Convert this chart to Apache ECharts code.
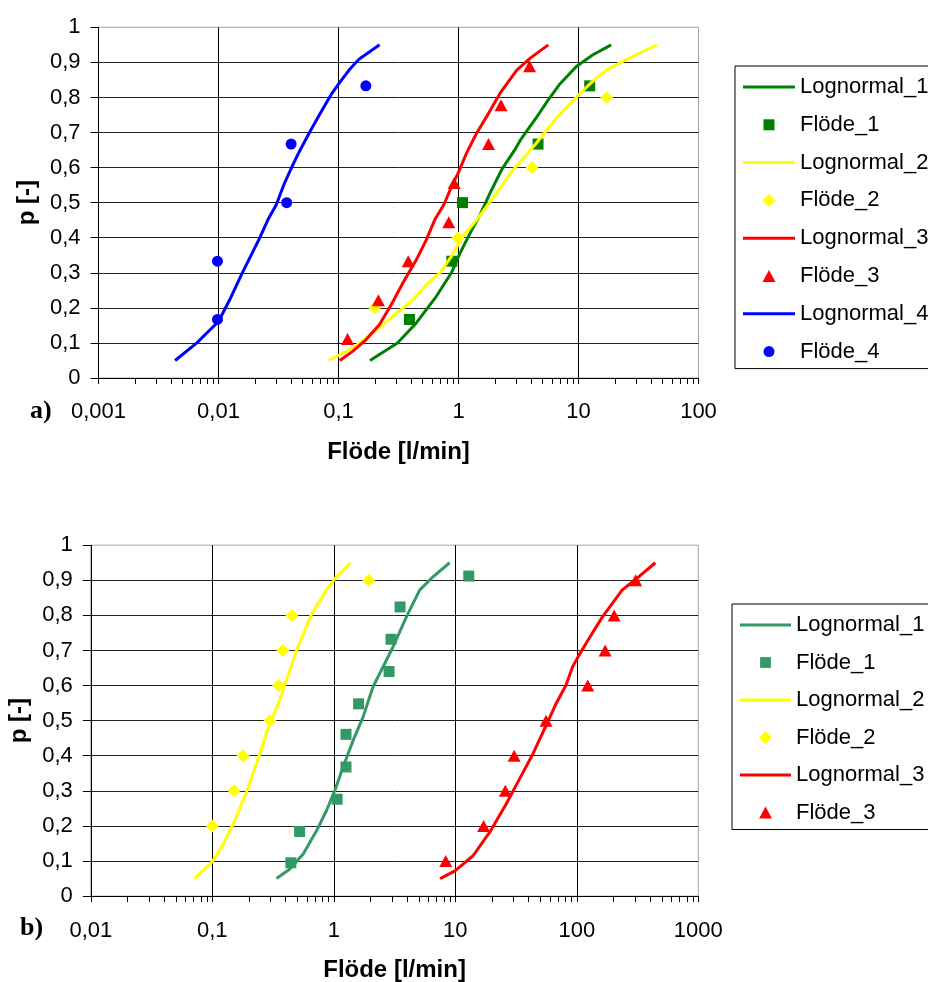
<!DOCTYPE html>
<html>
<head>
<meta charset="utf-8">
<script src="https://cdn.jsdelivr.net/npm/echarts@6/dist/echarts.min.js"></script>
<style>
  html, body { margin: 0; padding: 0; background: #fff; }
  #chart { width: 928px; height: 982px; }
</style>
</head>
<body>
<div id="chart"></div>
<script>
// ---------- Panel a) : four sites, cumulative probability vs. flow ----------
const aLogn1X = [0.183, 0.31, 0.445, 0.654, 0.873, 1.03, 1.25, 1.51, 1.83, 2.29, 2.95, 3.3, 4.4, 5.6, 6.9, 9.6, 13.1, 18.7];
const aLogn1P = [0.05, 0.10, 0.157, 0.233, 0.30, 0.356, 0.413, 0.465, 0.527, 0.594, 0.651, 0.68, 0.74, 0.793, 0.836, 0.888, 0.921, 0.95];
const aFlow1X = [0.39, 0.88, 1.08, 4.6, 12.4];
const aFlow1P = [0.167, 0.333, 0.5, 0.667, 0.833];

const aLogn2X = [0.083, 0.131, 0.193, 0.284, 0.417, 0.54, 0.70, 0.874, 1.09, 1.4, 2.0, 2.86, 4.46, 6.53, 10.2, 14.0, 18.1, 24.8, 32.1, 45];
const aLogn2P = [0.05, 0.085, 0.128, 0.176, 0.223, 0.266, 0.30, 0.347, 0.404, 0.448, 0.52, 0.594, 0.67, 0.741, 0.81, 0.855, 0.883, 0.907, 0.926, 0.95];
const aFlow2X = [0.2, 0.99, 4.1, 17.2];
const aFlow2P = [0.2, 0.4, 0.6, 0.8];

const aLogn3X = [0.1026, 0.131, 0.169, 0.219, 0.275, 0.344, 0.445, 0.539, 0.634, 0.754, 0.902, 0.993, 1.167, 1.4, 1.72, 2.22, 3.06, 3.96, 5.6];
const aLogn3P = [0.05, 0.076, 0.109, 0.152, 0.209, 0.271, 0.337, 0.394, 0.451, 0.494, 0.556, 0.584, 0.641, 0.695, 0.746, 0.812, 0.878, 0.912, 0.95];
const aFlow3X = [0.119, 0.215, 0.381, 0.83, 0.92, 1.78, 2.26, 3.91];
const aFlow3P = [0.111, 0.222, 0.333, 0.444, 0.556, 0.667, 0.778, 0.889];

const aLogn4X = [0.00435, 0.0066, 0.0100, 0.0124, 0.0155, 0.022, 0.0258, 0.0303, 0.0355, 0.041, 0.0472, 0.059, 0.0692, 0.0864, 0.101, 0.1225, 0.148, 0.22];
const aLogn4P = [0.05, 0.10, 0.161, 0.223, 0.294, 0.399, 0.451, 0.494, 0.556, 0.603, 0.646, 0.708, 0.75, 0.807, 0.84, 0.878, 0.909, 0.95];
const aFlow4X = [0.0098, 0.0098, 0.037, 0.0403, 0.169];
const aFlow4P = [0.167, 0.333, 0.5, 0.667, 0.833];

const aFlowTickLabels = ['0,001', '0,01', '0,1', '1', '10', '100'];

// ---------- Panel b) : three sites ----------
const bLogn1X = [0.338, 0.435, 0.56, 0.721, 0.871, 1.02, 1.19, 1.44, 1.74, 2.10, 2.54, 3.07, 3.95, 5.09, 6.55, 8.98];
const bLogn1P = [0.05, 0.077, 0.12, 0.186, 0.244, 0.301, 0.367, 0.443, 0.51, 0.596, 0.653, 0.71, 0.795, 0.872, 0.91, 0.95];
const bFlow1X = [0.443, 0.523, 1.064, 1.26, 1.26, 1.60, 2.85, 2.96, 3.51, 12.9];
const bFlow1P = [0.095, 0.184, 0.276, 0.368, 0.461, 0.548, 0.64, 0.732, 0.824, 0.912];

const bLogn2X = [0.0711, 0.1, 0.123, 0.153, 0.191, 0.211, 0.246, 0.289, 0.349, 0.408, 0.493, 0.655, 0.871, 1.02, 1.37];
const bLogn2P = [0.05, 0.098, 0.148, 0.215, 0.296, 0.339, 0.405, 0.481, 0.548, 0.615, 0.70, 0.803, 0.872, 0.905, 0.95];
const bFlow2X = [0.1, 0.151, 0.179, 0.298, 0.351, 0.381, 0.452, 1.94];
const bFlow2P = [0.2, 0.3, 0.4, 0.5, 0.6, 0.7, 0.8, 0.9];

const bLogn3X = [7.5, 9.94, 14.0, 19.2, 26.3, 33.8, 43.5, 55.8, 67.4, 81.3, 92.2, 104, 126, 162, 236, 323, 443];
const bLogn3P = [0.05, 0.072, 0.115, 0.182, 0.263, 0.334, 0.405, 0.486, 0.548, 0.60, 0.653, 0.686, 0.734, 0.795, 0.872, 0.91, 0.95];
const bFlow3X = [8.34, 17.1, 25.8, 30.5, 55.8, 123, 171, 203, 305];
const bFlow3P = [0.1, 0.2, 0.3, 0.4, 0.5, 0.6, 0.7, 0.8, 0.9];

const bFlowTickLabels = ['0,01', '0,1', '1', '10', '100', '1000'];

// shared
const pTickLabels = ['0', '0,1', '0,2', '0,3', '0,4', '0,5', '0,6', '0,7', '0,8', '0,9', '1'];
const minorSteps = [2, 3, 4, 5, 6, 7, 8, 9];

const FONT = '"Liberation Sans", Arial, sans-serif';
const GREEN_A = '#008000';
const GREEN_B = '#339966';
const YELLOW = '#FFFF00';
const RED = '#FF0000';
const BLUE = '#0000FF';

const zip = (xs, ps) => xs.map((x, i) => [x, ps[i]]);

function curve(name, xs, ps, color, idx) {
  return {
    type: 'line', name, xAxisIndex: idx, yAxisIndex: idx,
    data: zip(xs, ps), showSymbol: false, symbol: 'none', smooth: false,
    lineStyle: { color, width: 3, opacity: 1 }, itemStyle: { color },
    silent: true, animation: false
  };
}

function points(name, xs, ps, color, symbol, size, idx) {
  return {
    type: 'scatter', name, xAxisIndex: idx, yAxisIndex: idx,
    data: zip(xs, ps), symbol, symbolSize: size,
    itemStyle: { color, borderWidth: 0, opacity: 1 }, silent: true, animation: false
  };
}

// log-axis minor ticks (2..9 within each decade), drawn under the axis line
function minorTicks(firstExp, lastExp, idx) {
  const vals = [];
  for (let e = firstExp; e < lastExp; e++) {
    minorSteps.forEach(m => vals.push([m * Math.pow(10, e), 0]));
  }
  return {
    type: 'custom', xAxisIndex: idx, yAxisIndex: idx, data: vals,
    silent: true, clip: false, animation: false,
    renderItem(params, api) {
      const p = api.coord([api.value(0), 0]);
      const x = Math.round(p[0]) + 0.5;
      return { type: 'line', shape: { x1: x, y1: p[1], x2: x, y2: p[1] + 6 },
               style: { stroke: '#000', lineWidth: 1 } };
    }
  };
}

function xAxis(idx, min, max, labels, labelMargin) {
  const minExp = Math.round(Math.log10(min));
  return {
    type: 'log', logBase: 10, gridIndex: idx, min, max,
    axisLine: { show: true, onZero: false, lineStyle: { color: '#000', width: 1 } },
    axisTick: { show: true, inside: false, length: 6, lineStyle: { color: '#000', width: 1 } },
    minorTick: { show: false },
    axisLabel: {
      fontSize: 22, fontFamily: FONT, color: '#000', margin: labelMargin,
      formatter: v => labels[Math.round(Math.log10(v)) - minExp]
    },
    splitLine: { show: true, showMinLine: false, showMaxLine: false, lineStyle: { color: '#000', width: 1 } },
    name: 'Flöde [l/min]', nameLocation: 'middle', nameGap: 62,
    nameTextStyle: { fontSize: 24, fontWeight: 'bold', fontFamily: FONT, color: '#000' }
  };
}

function yAxis(idx) {
  return {
    type: 'value', gridIndex: idx, min: 0, max: 1, interval: 0.1,
    axisLine: { show: true, onZero: false, lineStyle: { color: '#000', width: 1 } },
    axisTick: { show: true, inside: false, length: 8, lineStyle: { color: '#000', width: 1 } },
    axisLabel: {
      fontSize: 22, fontFamily: FONT, color: '#000', margin: 18,
      formatter: v => pTickLabels[Math.round(v * 10)]
    },
    splitLine: { show: true, showMinLine: false, showMaxLine: false, lineStyle: { color: '#222', width: 1 } },
    name: 'p [-]', nameLocation: 'middle', nameGap: 59, nameRotate: 90,
    nameTextStyle: { fontSize: 24, fontWeight: 'bold', fontFamily: FONT, color: '#000' }
  };
}

// legend glyphs in a 52 x 22 box
const ICON_LINE = 'path://M0,0M52,22M0,9.5h52v3h-52z';
const ICON_RECT = 'path://M0,0M52,22M20.5,5.5h11v11h-11z';
const ICON_DIAMOND = 'path://M0,0M52,22M26,4.5l6.5,6.5l-6.5,6.5l-6.5,-6.5z';
const ICON_TRIANGLE = 'path://M0,0M52,22M26,5l6.5,12h-13z';
const ICON_CIRCLE = 'path://M0,0M52,22M31.5,11a5.5,5.5,0,1,1,-11,0a5.5,5.5,0,1,1,11,0z';

function legendItem(name, icon, color) {
  return { name, icon, itemStyle: { color, borderWidth: 0, opacity: 1 } };
}

function legend(left, top, gap, width, items) {
  return {
    orient: 'vertical', left, top, itemWidth: width, itemHeight: 22, itemGap: gap,
    padding: [10, 8, 6, 8], borderColor: '#000', borderWidth: 1, borderRadius: 0,
    backgroundColor: '#fff', selectedMode: false,
    textStyle: { fontSize: 22, fontFamily: FONT, color: '#000' },
    data: items
  };
}

const option = {
  animation: false,
  backgroundColor: '#fff',
  grid: [
    { left: 98.5, top: 27.3, width: 600, height: 350.7, show: true, borderColor: '#a6a6a6',
      borderWidth: 1, backgroundColor: 'transparent', containLabel: false, outerBoundsMode: 'none' },
    { left: 90.8, top: 545.2, width: 607.5, height: 350.9, show: true, borderColor: '#a6a6a6',
      borderWidth: 1, backgroundColor: 'transparent', containLabel: false, outerBoundsMode: 'none' }
  ],
  xAxis: [xAxis(0, 0.001, 100, aFlowTickLabels, 23), xAxis(1, 0.01, 1000, bFlowTickLabels, 24)],
  yAxis: [yAxis(0), yAxis(1)],
  legend: [
    legend(735, 66, 15.8, 52, [
      legendItem('Lognormal_1', ICON_LINE, GREEN_A),
      legendItem('Flöde_1', ICON_RECT, GREEN_A),
      legendItem('Lognormal_2', ICON_LINE, YELLOW),
      legendItem('Flöde_2', ICON_DIAMOND, YELLOW),
      legendItem('Lognormal_3', ICON_LINE, RED),
      legendItem('Flöde_3', ICON_TRIANGLE, RED),
      legendItem('Lognormal_4', ICON_LINE, BLUE),
      legendItem('Flöde_4', ICON_CIRCLE, BLUE)
    ]),
    legend(732, 604, 15.5, 51, [
      legendItem('Lognormal_1', ICON_LINE, GREEN_B),
      legendItem('Flöde_1', ICON_RECT, GREEN_B),
      legendItem('Lognormal_2', ICON_LINE, YELLOW),
      legendItem('Flöde_2', ICON_DIAMOND, YELLOW),
      legendItem('Lognormal_3', ICON_LINE, RED),
      legendItem('Flöde_3', ICON_TRIANGLE, RED)
    ])
  ],
  graphic: [
    { type: 'text', left: 30, top: 398, style: { text: 'a)', font: 'bold 26px "Liberation Serif", "Times New Roman", serif', fill: '#000' } },
    { type: 'text', left: 20, top: 915, style: { text: 'b)', font: 'bold 26px "Liberation Serif", "Times New Roman", serif', fill: '#000' } }
  ],
  series: [
    minorTicks(-3, 2, 0),
    curve('Lognormal_1', aLogn1X, aLogn1P, GREEN_A, 0),
    points('Flöde_1', aFlow1X, aFlow1P, GREEN_A, 'rect', 11, 0),
    curve('Lognormal_2', aLogn2X, aLogn2P, YELLOW, 0),
    points('Flöde_2', aFlow2X, aFlow2P, YELLOW, 'diamond', 13, 0),
    curve('Lognormal_3', aLogn3X, aLogn3P, RED, 0),
    points('Flöde_3', aFlow3X, aFlow3P, RED, 'triangle', [13, 12], 0),
    curve('Lognormal_4', aLogn4X, aLogn4P, BLUE, 0),
    points('Flöde_4', aFlow4X, aFlow4P, BLUE, 'circle', 11, 0),

    minorTicks(-2, 3, 1),
    curve('Lognormal_1', bLogn1X, bLogn1P, GREEN_B, 1),
    points('Flöde_1', bFlow1X, bFlow1P, GREEN_B, 'rect', 11, 1),
    curve('Lognormal_2', bLogn2X, bLogn2P, YELLOW, 1),
    points('Flöde_2', bFlow2X, bFlow2P, YELLOW, 'diamond', 13, 1),
    curve('Lognormal_3', bLogn3X, bLogn3P, RED, 1),
    points('Flöde_3', bFlow3X, bFlow3P, RED, 'triangle', [13, 12], 1)
  ]
};

const chart = echarts.init(document.getElementById('chart'), null, { renderer: 'canvas' });
chart.setOption(option);
</script>
</body>
</html>
